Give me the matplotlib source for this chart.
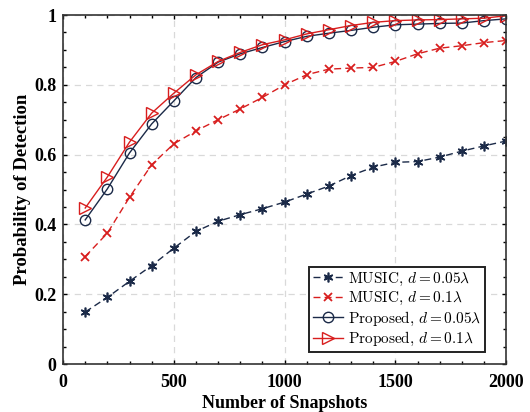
import matplotlib

matplotlib.use("Agg")
import matplotlib.pyplot as plt
import numpy as np
from matplotlib.ticker import MultipleLocator

snapshots = np.arange(100, 2001, 100)

music_005 = [0.149, 0.191, 0.237, 0.282, 0.332, 0.380, 0.409, 0.428, 0.445, 0.464,
             0.487, 0.510, 0.540, 0.564, 0.578, 0.580, 0.593, 0.610, 0.625, 0.639]
music_01 = [0.308, 0.375, 0.478, 0.571, 0.631, 0.668, 0.700, 0.731, 0.764, 0.800,
            0.829, 0.845, 0.848, 0.850, 0.867, 0.889, 0.905, 0.912, 0.921, 0.927]
prop_005 = [0.413, 0.502, 0.605, 0.688, 0.754, 0.821, 0.865, 0.889, 0.907, 0.924,
            0.939, 0.948, 0.956, 0.965, 0.972, 0.974, 0.976, 0.977, 0.984, 0.989]
prop_01 = [0.447, 0.536, 0.636, 0.719, 0.776, 0.829, 0.867, 0.893, 0.915, 0.929,
           0.946, 0.958, 0.970, 0.979, 0.984, 0.986, 0.987, 0.989, 0.991, 0.998]

yticks = [0, 0.2, 0.4, 0.6, 0.8, 1]
ytick_labels = ["0", "0.2", "0.4", "0.6", "0.8", "1"]

labels = [
    r"$\mathrm{MUSIC},\,d = 0.05\lambda$",
    r"$\mathrm{MUSIC},\,d = 0.1\lambda$",
    r"$\mathrm{Proposed},\,d = 0.05\lambda$",
    r"$\mathrm{Proposed},\,d = 0.1\lambda$",
]

NAVY = "#1b2a48"
RED = "#d81e1e"

plt.rcParams["font.family"] = ["Liberation Serif", "DejaVu Serif"]
plt.rcParams["mathtext.fontset"] = "cm"

fig = plt.figure(figsize=(5.3, 4.12), dpi=100)
ax = fig.add_axes([0.119, 0.1165, 0.836, 0.847])

ax.plot(snapshots, music_005, color=NAVY, ls=(0, (5, 3)), lw=1.0, marker=(6, 2, 0),
        ms=7, mew=1.2, mec=NAVY, label=labels[0])
ax.plot(snapshots, music_01, color=RED, ls=(0, (5, 3)), lw=1.0, marker="x",
        ms=6, mew=1.3, label=labels[1])
ax.plot(snapshots, prop_005, color=NAVY, ls="-", lw=1.0, marker="o",
        ms=7.5, mfc="none", mec=NAVY, label=labels[2])
ax.plot(snapshots, prop_01, color=RED, ls="-", lw=1.0, marker=">",
        ms=8, mfc="none", mec=RED, label=labels[3])

ax.set_xlim(0, 2000)
ax.set_ylim(0, 1)
ax.xaxis.set_major_locator(MultipleLocator(500))
ax.xaxis.set_minor_locator(MultipleLocator(100))
ax.set_yticks(yticks, ytick_labels)
ax.yaxis.set_minor_locator(MultipleLocator(0.05))
ax.tick_params(which="both", direction="in", top=True, right=True, width=1.0)
ax.tick_params(which="major", length=3, labelsize=13)
ax.tick_params(axis="x", which="major", pad=7)
ax.tick_params(axis="y", which="major", pad=5)
ax.tick_params(which="minor", length=2)
for lab in ax.get_xticklabels() + ax.get_yticklabels():
    lab.set_fontweight("bold")
for sp in ax.spines.values():
    sp.set_linewidth(1.2)
    sp.set_color("#333333")

ax.grid(True, which="major", ls=(0, (5, 4)), color="#d9d9d9", lw=0.9)
ax.set_axisbelow(True)

ax.set_xlabel("Number of Snapshots", fontsize=13, fontweight="bold", labelpad=3)
ax.set_ylabel("Probability of Detection", fontsize=13.5, fontweight="bold", labelpad=2)

leg = ax.legend(loc="lower right", bbox_to_anchor=(0.952, 0.035), fontsize=11,
                handlelength=2.0, handletextpad=0.3, borderpad=0.25,
                labelspacing=0.15, borderaxespad=0.0, fancybox=False, framealpha=1)
leg.get_frame().set_edgecolor("#222222")
leg.get_frame().set_linewidth(1.4)

fig.savefig("out.png", dpi=100)
